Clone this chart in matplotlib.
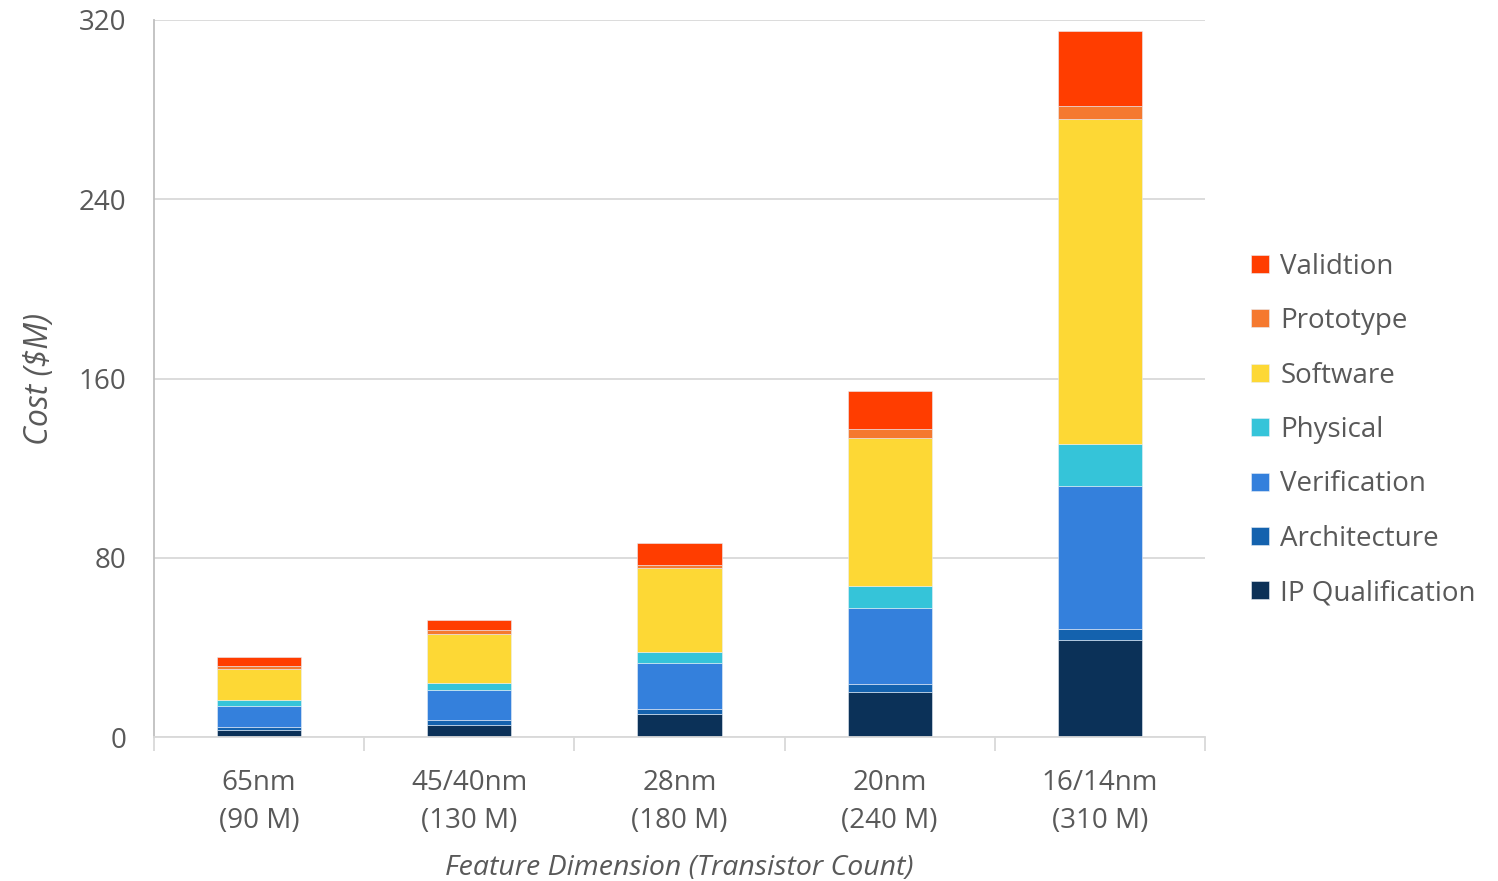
import numpy as np
import matplotlib.pyplot as plt

plt.rcParams['font.family'] = ['Open Sans', 'DejaVu Sans']

nodes = ['65nm\n(90 M)', '45/40nm\n(130 M)', '28nm\n(180 M)', '20nm\n(240 M)', '16/14nm\n(310 M)']
ip_qual = [3.3, 5.3, 10.5, 20.2, 43.4]
architecture = [1.0, 2.1, 1.9, 3.4, 4.7]
verification = [9.4, 13.5, 20.5, 33.9, 64.0]
physical = [3.0, 3.0, 4.9, 9.7, 18.7]
software = [13.7, 21.9, 37.8, 66.1, 144.9]
prototype = [1.5, 1.8, 1.3, 4.0, 5.7]
validation = [3.7, 4.8, 9.5, 17.1, 33.9]

series = [('IP Qualification', ip_qual, '#0b3158'),
          ('Architecture', architecture, '#1462ae'),
          ('Verification', verification, '#3480dc'),
          ('Physical', physical, '#35c4d9'),
          ('Software', software, '#fdd835'),
          ('Prototype', prototype, '#f5792f'),
          ('Validtion', validation, '#ff3d00')]

txt = '#595959'

fig = plt.figure(figsize=(14.98, 8.81), dpi=100)
ax = fig.add_axes([0.1028, 0.1634, 0.7016, 0.8139])

x = np.arange(len(nodes))
bottom = np.zeros(len(nodes))
handles = []
for name, vals, col in series:
    b = ax.bar(x, vals, width=0.4, bottom=bottom, color=col, label=name,
               edgecolor='#e8eef6', linewidth=0.4)
    handles.append(b)
    bottom += np.array(vals)

ax.set_xlim(-0.5, 4.5)
ax.set_ylim(0, 320)
ax.set_yticks(np.arange(0, 321, 80))
ax.yaxis.grid(True, color='#d9d9d9', linewidth=1.3)
ax.set_axisbelow(True)

ax.set_xticks(x)
ax.set_xticklabels(nodes, fontsize=20, color=txt, linespacing=1.5)
ax.set_xticks(np.arange(-0.5, 5, 1), minor=True)
ax.tick_params(axis='x', which='major', length=0, pad=23)
ax.tick_params(axis='x', which='minor', length=10, width=1.3, color='#d9d9d9')
ax.tick_params(axis='y', length=0, pad=20, labelsize=20, labelcolor=txt)

for s in ['top', 'right']:
    ax.spines[s].set_visible(False)
ax.spines['left'].set_color('#bfbfbf')
ax.spines['left'].set_linewidth(1.3)
ax.spines['bottom'].set_color('#d9d9d9')
ax.spines['bottom'].set_linewidth(1.3)

ax.set_xlabel('Feature Dimension (Transistor Count)', fontsize=20.5, color=txt,
              style='italic', labelpad=13)
ax.set_ylabel('Cost ($M)', fontsize=23, color=txt, style='italic', labelpad=16)

leg = fig.legend(handles[::-1], [s[0] for s in series][::-1],
                 loc='center left', bbox_to_anchor=(0.8187, 0.512),
                 frameon=False, fontsize=20, labelcolor=txt,
                 handlelength=0.62, handleheight=0.62, handletextpad=0.42,
                 labelspacing=0.95)

plt.savefig('out.png', dpi=100)
